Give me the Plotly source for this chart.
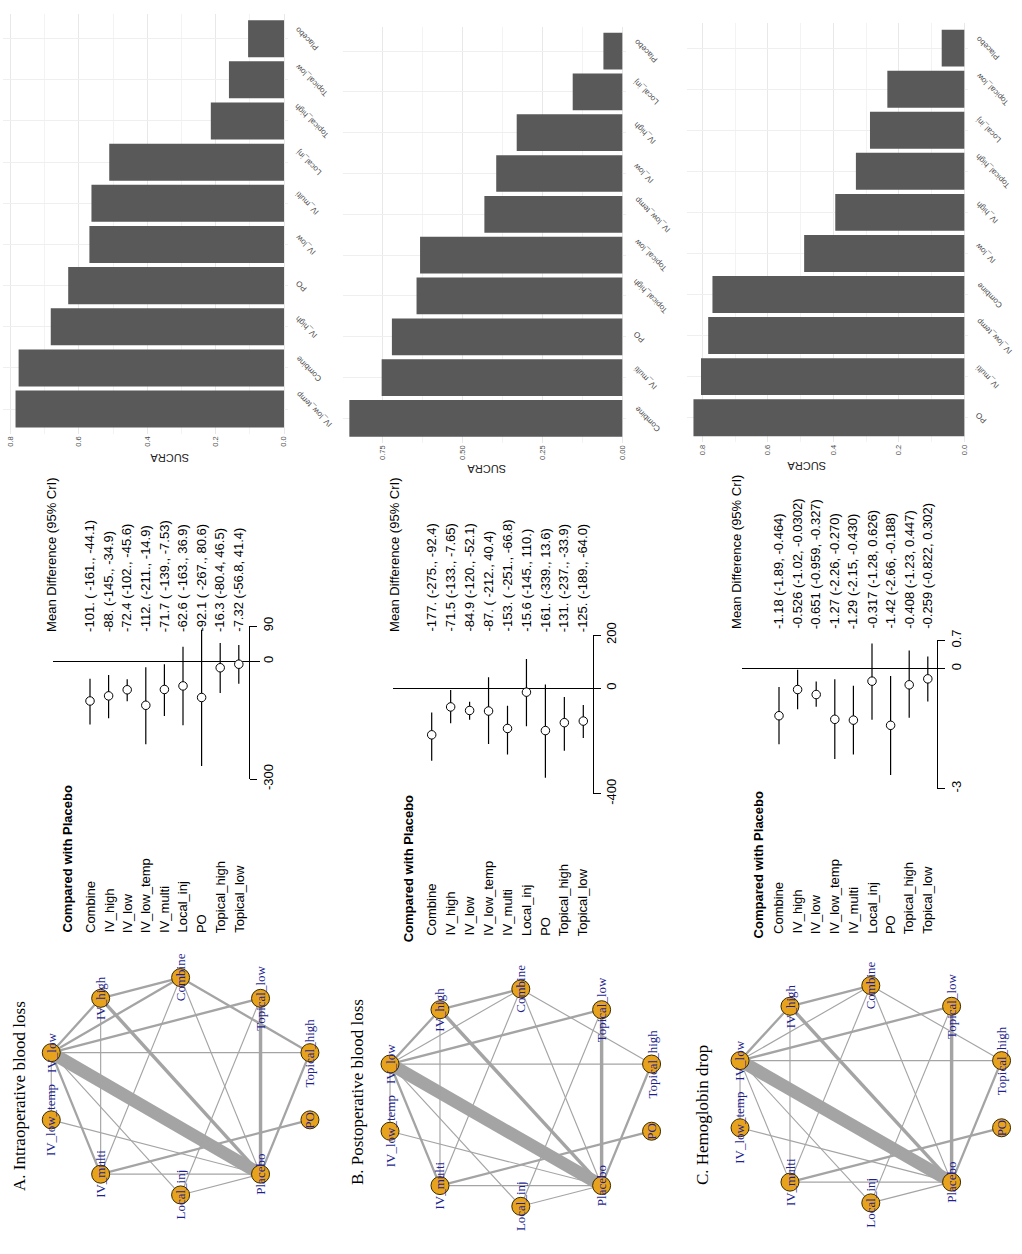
import numpy as np
import plotly.graph_objects as go

W, H = 1022, 1254

# ---------------- data ----------------
titles = ["A. Intraoperative blood loss", "B. Postoperative blood loss", "C. Hemoglobin drop"]

# SUCRA bars, listed top to bottom as drawn
sucra_names_a = ["Placebo", "Topical_low", "Topical_high", "Local_inj", "IV_multi",
                 "IV_low", "PO", "IV_high", "Combine", "IV_low_temp"]
sucra_a = [0.105, 0.161, 0.214, 0.511, 0.563, 0.569, 0.631, 0.682, 0.776, 0.785]
sucra_names_b = ["Placebo", "Local_inj", "IV_high", "IV_low", "IV_low_temp",
                 "Topical_low", "Topical_high", "PO", "IV_multi", "Combine"]
sucra_b = [0.059, 0.155, 0.330, 0.394, 0.431, 0.632, 0.643, 0.720, 0.752, 0.853]
sucra_names_c = ["Placebo", "Topical_low", "Local_inj", "Topical_high", "IV_high",
                 "IV_low", "Combine", "IV_low_temp", "IV_multi", "PO"]
sucra_c = [0.069, 0.235, 0.288, 0.331, 0.394, 0.489, 0.769, 0.782, 0.804, 0.827]

# forest plots: treatment vs placebo
treatments = ["Combine", "IV_high", "IV_low", "IV_low_temp", "IV_multi",
              "Local_inj", "PO", "Topical_high", "Topical_low"]
md_a = [-101, -88, -72.4, -112, -71.7, -62.6, -92.1, -16.3, -7.32]
lo_a = [-161, -145, -102, -211, -139, -163, -267, -80.4, -56.8]
hi_a = [-44.1, -34.9, -45.6, -14.9, -7.53, 36.9, 80.6, 46.5, 41.4]
txt_a = ["-101. ( -161., -44.1)", "-88. (-145., -34.9)", "-72.4 (-102., -45.6)",
         "-112. (-211., -14.9)", "-71.7 ( -139., -7.53)", "-62.6 ( -163., 36.9)",
         "-92.1 ( -267., 80.6)", "-16.3 (-80.4, 46.5)", "-7.32 (-56.8, 41.4)"]
md_b = [-177, -71.5, -84.9, -87, -153, -15.6, -161, -131, -125]
lo_b = [-275, -133, -120, -212, -251, -145, -339, -237, -189]
hi_b = [-92.4, -7.65, -52.1, 40.4, -66.8, 110, 13.6, -33.9, -64.0]
txt_b = ["-177. (-275., -92.4)", "-71.5 (-133., -7.65)", "-84.9 (-120., -52.1)",
         "-87. ( -212., 40.4)", "-153. ( -251., -66.8)", "-15.6 (-145., 110.)",
         "-161. (-339., 13.6)", "-131. (-237., -33.9)", "-125. (-189., -64.0)"]
md_c = [-1.18, -0.526, -0.651, -1.27, -1.29, -0.317, -1.42, -0.408, -0.259]
lo_c = [-1.89, -1.02, -0.959, -2.26, -2.15, -1.28, -2.66, -1.23, -0.822]
hi_c = [-0.464, -0.0302, -0.327, -0.270, -0.430, 0.626, -0.188, 0.447, 0.302]
txt_c = ["-1.18 (-1.89, -0.464)", "-0.526 (-1.02, -0.0302)", "-0.651 (-0.959, -0.327)",
         "-1.27 (-2.26, -0.270)", "-1.29 (-2.15, -0.430)", "-0.317 (-1.28, 0.626)",
         "-1.42 (-2.66, -0.188)", "-0.408 (-1.23, 0.447)", "-0.259 (-0.822, 0.302)"]
ticks_a = [-300, 0, 90]
ticks_b = [-400, 0, 200]
ticks_c = [-3, 0, 0.7]

# network: nodes clockwise from the top, edges with number of studies
ring = ["Combine", "Topical_low", "Topical_high", "PO", "Placebo",
        "Local_inj", "IV_multi", "IV_low_temp", "IV_low", "IV_high"]
edges_a = [("IV_low", "Placebo", 11), ("IV_high", "Placebo", 3), ("Topical_low", "Placebo", 3),
           ("IV_low", "IV_high", 2), ("IV_low", "Combine", 2), ("IV_high", "Combine", 2),
           ("IV_low", "Topical_low", 2), ("IV_low", "Topical_high", 1), ("Combine", "Topical_high", 2),
           ("IV_low", "IV_multi", 2), ("IV_low", "Local_inj", 1), ("IV_low_temp", "Placebo", 1),
           ("IV_low_temp", "IV_low", 1), ("IV_multi", "Placebo", 1), ("Local_inj", "Placebo", 1),
           ("IV_multi", "PO", 2), ("IV_multi", "Combine", 1), ("IV_high", "IV_multi", 1),
           ("Combine", "Placebo", 1), ("Local_inj", "Topical_low", 1), ("Topical_high", "Placebo", 2)]
edges_b = [("IV_low", "Placebo", 11), ("IV_high", "Placebo", 3), ("Topical_low", "Placebo", 3),
           ("IV_low", "IV_high", 2), ("IV_low", "Combine", 1), ("IV_high", "Combine", 2),
           ("IV_low", "Topical_low", 2), ("IV_low", "Topical_high", 1), ("Combine", "Topical_high", 1),
           ("IV_low", "IV_multi", 2), ("IV_low", "Local_inj", 1), ("IV_low_temp", "Placebo", 1),
           ("IV_low_temp", "IV_low", 1), ("IV_multi", "Placebo", 1), ("Local_inj", "Placebo", 1),
           ("IV_multi", "PO", 2), ("IV_multi", "Combine", 1), ("IV_high", "IV_multi", 1),
           ("Combine", "Placebo", 1), ("Local_inj", "Topical_low", 1), ("Topical_high", "Placebo", 2)]
edges_c = [("IV_low", "Placebo", 11), ("IV_high", "Placebo", 3), ("Topical_low", "Placebo", 3),
           ("IV_low", "IV_high", 2), ("IV_low", "Combine", 1), ("IV_high", "Combine", 2),
           ("IV_low", "Topical_low", 2), ("IV_low", "Topical_high", 1), ("Combine", "Topical_high", 1),
           ("IV_low", "IV_multi", 1), ("IV_low", "Local_inj", 1), ("IV_low_temp", "Placebo", 1),
           ("IV_low_temp", "IV_low", 1), ("IV_multi", "Placebo", 1), ("Local_inj", "Placebo", 1),
           ("IV_multi", "PO", 2), ("IV_multi", "Combine", 1), ("IV_high", "IV_multi", 1),
           ("Combine", "Placebo", 1), ("Local_inj", "Topical_low", 1), ("Topical_high", "Placebo", 2)]

# ---------------- layout (pixels in the 1022x1254 page) ----------------
panels = [
    dict(names=sucra_names_a, sucra=sucra_a, md=md_a, lo=lo_a, hi=hi_a, txt=txt_a, fticks=ticks_a,
         edges=edges_a, title=titles[0],
         bar=dict(zero=284, scale=342, left=3, top=1, bot=429, dt=0.2, minor=0.1, fmt=".1f", tx=148, ty=453),
         forest=dict(row0=90, sp=18.6, left=53, right=260, axis=249, ybot=781, ytop=625,
                     lab=940, comp=(68, 940), mdh=(52, 633), val=633),
         net=dict(cx=180.6, cy=1094.2, rx=136, ry=110.8, tx=20, ty=1203)),
    dict(names=sucra_names_b, sucra=sucra_b, md=md_b, lo=lo_b, hi=hi_b, txt=txt_b, fticks=ticks_b,
         edges=edges_b, title=titles[1],
         bar=dict(zero=622.3, scale=320, left=343, top=13.8, bot=438.3, dt=0.25, minor=0.125, fmt=".2f", tx=487, ty=465),
         forest=dict(row0=431.7, sp=18.95, left=393, right=600, axis=592.7, ybot=796, ytop=634.3,
                     lab=943, comp=(408, 950), mdh=(395, 633), val=633),
         net=dict(cx=520.8, cy=1105.8, rx=137.5, ry=110.8, tx=357, ty=1197)),
    dict(names=sucra_names_c, sucra=sucra_c, md=md_c, lo=lo_c, hi=hi_c, txt=txt_c, fticks=ticks_c,
         edges=edges_c, title=titles[2],
         bar=dict(zero=964.3, scale=327.5, left=686.7, top=10.7, bot=437.7, dt=0.2, minor=0.1, fmt=".1f", tx=828, ty=462),
         forest=dict(row0=779, sp=18.6, left=741.7, right=940, axis=937.3, ybot=790.7, ytop=639.7,
                     lab=941, comp=(758, 946), mdh=(737, 630), val=630),
         net=dict(cx=870.8, cy=1102.3, rx=137.5, ry=110.8, tx=702, ty=1197)),
]


def px(x):
    return x / W


def py(y):
    return 1 - y / H


SANS = "Liberation Sans, Arial, sans-serif"
SERIF = "Liberation Serif, Times New Roman, serif"

fig = go.Figure()
layout = {}
annotations = []

for p, cfg in enumerate(panels):
    ib, ifo, inet = 3 * p + 1, 3 * p + 2, 3 * p + 3

    # ---- SUCRA bar chart ----
    b = cfg["bar"]
    fig.add_trace(go.Bar(x=cfg["sucra"], y=cfg["names"], orientation="h", width=0.9,
                         marker=dict(color="#595959", line=dict(width=0)),
                         xaxis=f"x{ib}", yaxis=f"y{ib}", hoverinfo="x+y"))
    right = b["zero"] + 4
    vmax = (b["zero"] - b["left"]) / b["scale"]
    vmin = -(right - b["zero"]) / b["scale"]
    tv = list(np.arange(0, vmax, b["dt"]))
    layout[f"xaxis{ib}"] = dict(domain=[px(b["left"]), px(right)], range=[vmax, vmin], anchor=f"y{ib}",
                                tickvals=tv, tickformat=b["fmt"], tickangle=-90, ticks="",
                                tickfont=dict(family=SANS, size=7.5, color="#4d4d4d"),
                                showgrid=True, gridcolor="#e8e8e8", gridwidth=1, zeroline=False,
                                minor=dict(dtick=b["minor"], tick0=0, showgrid=True, gridcolor="#f3f3f3"),
                                showline=False, fixedrange=True)
    layout[f"yaxis{ib}"] = dict(domain=[py(b["bot"]), py(b["top"])], type="category",
                                categoryorder="array", categoryarray=cfg["names"],
                                range=[len(cfg["names"]) - 0.4, -0.6], anchor=f"x{ib}",
                                showticklabels=False, ticks="",
                                showgrid=True, gridcolor="#efefef", zeroline=False, showline=False,
                                fixedrange=True)
    # slanted treatment labels next to the bar bases
    for name in cfg["names"]:
        annotations.append(dict(text=name, x=px(b["zero"] + 7), xref="paper", xanchor="left",
                                y=name, yref=f"y{ib}", yanchor="middle", textangle=-135,
                                showarrow=False, font=dict(family=SANS, size=8, color="#4d4d4d")))
    annotations.append(dict(text="SUCRA", x=px(b["tx"]), y=py(b["ty"]), xref="paper", yref="paper",
                            textangle=180, showarrow=False, font=dict(family=SANS, size=11, color="#222")))

    # ---- forest plot ----
    f = cfg["forest"]
    rows = list(range(len(treatments)))
    md = np.array(cfg["md"])
    fig.add_trace(go.Scatter(x=rows, y=md, mode="markers", xaxis=f"x{ifo}", yaxis=f"y{ifo}",
                             marker=dict(symbol="circle", size=8.5, color="white",
                                         line=dict(color="black", width=1)),
                             error_y=dict(type="data", symmetric=False,
                                          array=np.array(cfg["hi"]) - md,
                                          arrayminus=md - np.array(cfg["lo"]),
                                          width=0, thickness=1.2, color="black"),
                             cliponaxis=False, hoverinfo="x+y"))
    ft = cfg["fticks"]
    layout[f"xaxis{ifo}"] = dict(domain=[px(f["left"]), px(f["right"])],
                                 range=[(f["left"] - f["row0"]) / f["sp"], (f["right"] - f["row0"]) / f["sp"]],
                                 anchor=f"y{ifo}", visible=False, fixedrange=True)
    layout[f"yaxis{ifo}"] = dict(domain=[py(f["ybot"]), py(f["ytop"])], range=[ft[0], ft[-1]],
                                 anchor="free", position=px(f["axis"]), side="right",
                                 showline=True, linecolor="black", linewidth=1,
                                 ticks="outside", ticklen=7, tickcolor="black", tickwidth=1,
                                 tickvals=ft, ticktext=[f"{v:g}" for v in ft], tickangle=-90,
                                 tickfont=dict(family=SANS, size=13, color="black"),
                                 showgrid=False, zeroline=True, zerolinecolor="black", zerolinewidth=1.2,
                                 fixedrange=True)
    annotations.append(dict(text="<b>Compared with Placebo</b>", x=px(f["comp"][0]), y=py(f["comp"][1]),
                            xref="paper", yref="paper", textangle=-90, xanchor="center", yanchor="bottom",
                            showarrow=False, font=dict(family=SANS, size=13, color="black")))
    annotations.append(dict(text="Mean Difference (95% CrI)", x=px(f["mdh"][0]), y=py(f["mdh"][1]),
                            xref="paper", yref="paper", textangle=-90, xanchor="center", yanchor="bottom",
                            showarrow=False, font=dict(family=SANS, size=13, color="black")))
    for i, (name, t) in enumerate(zip(treatments, cfg["txt"])):
        annotations.append(dict(text=name, x=i, xref=f"x{ifo}", y=py(f["lab"]), yref="paper",
                                textangle=-90, xanchor="center", yanchor="bottom", showarrow=False,
                                font=dict(family=SANS, size=13, color="black")))
        annotations.append(dict(text=t, x=i, xref=f"x{ifo}", y=py(f["val"]), yref="paper",
                                textangle=-90, xanchor="center", yanchor="bottom", showarrow=False,
                                font=dict(family=SANS, size=13, color="black")))

    # ---- network plot (circular layout) ----
    n = cfg["net"]
    ang = np.deg2rad(np.arange(len(ring)) * 360 / len(ring))
    pos = {name: (np.sin(a), np.cos(a)) for name, a in zip(ring, ang)}
    for u, v, k in cfg["edges"]:
        fig.add_trace(go.Scatter(x=[pos[u][0], pos[v][0]], y=[pos[u][1], pos[v][1]], mode="lines",
                                 line=dict(color="#a4a4a4", width=1.15 * k),
                                 xaxis=f"x{inet}", yaxis=f"y{inet}", hoverinfo="none"))
    fig.add_trace(go.Scatter(x=[pos[r][0] for r in ring], y=[pos[r][1] for r in ring], mode="markers",
                             marker=dict(size=18, color="#E8A31C", line=dict(color="#3a2a00", width=1)),
                             text=ring, hoverinfo="text", cliponaxis=False,
                             xaxis=f"x{inet}", yaxis=f"y{inet}"))
    for r in ring:
        annotations.append(dict(text=r, x=pos[r][0], y=pos[r][1], xref=f"x{inet}", yref=f"y{inet}",
                                textangle=-90, showarrow=False,
                                font=dict(family=SERIF, size=13, color="#1f1f8f")))
    R = 1.08
    layout[f"xaxis{inet}"] = dict(domain=[px(n["cx"] - R * n["rx"]), px(n["cx"] + R * n["rx"])],
                                  range=[-R, R], anchor=f"y{inet}", visible=False, fixedrange=True)
    layout[f"yaxis{inet}"] = dict(domain=[py(n["cy"] + R * n["ry"]), py(n["cy"] - R * n["ry"])],
                                  range=[-R, R], anchor=f"x{inet}", visible=False, fixedrange=True)
    annotations.append(dict(text=cfg["title"], x=px(n["tx"]), y=py(n["ty"]), xref="paper", yref="paper",
                            textangle=-90, xanchor="center", yanchor="bottom", showarrow=False,
                            font=dict(family=SERIF, size=17, color="black")))

fig.update_layout(**layout)
fig.update_layout(width=W, height=H, margin=dict(l=0, r=0, t=0, b=0), showlegend=False,
                  plot_bgcolor="white", paper_bgcolor="white", annotations=annotations,
                  bargap=0.1)

# drop the page's default body margin so the 1022x1254 figure fills the window exactly
fig.write_html("out.html", config={"displayModeBar": False},
               post_script="document.body.style.margin='0px';")
